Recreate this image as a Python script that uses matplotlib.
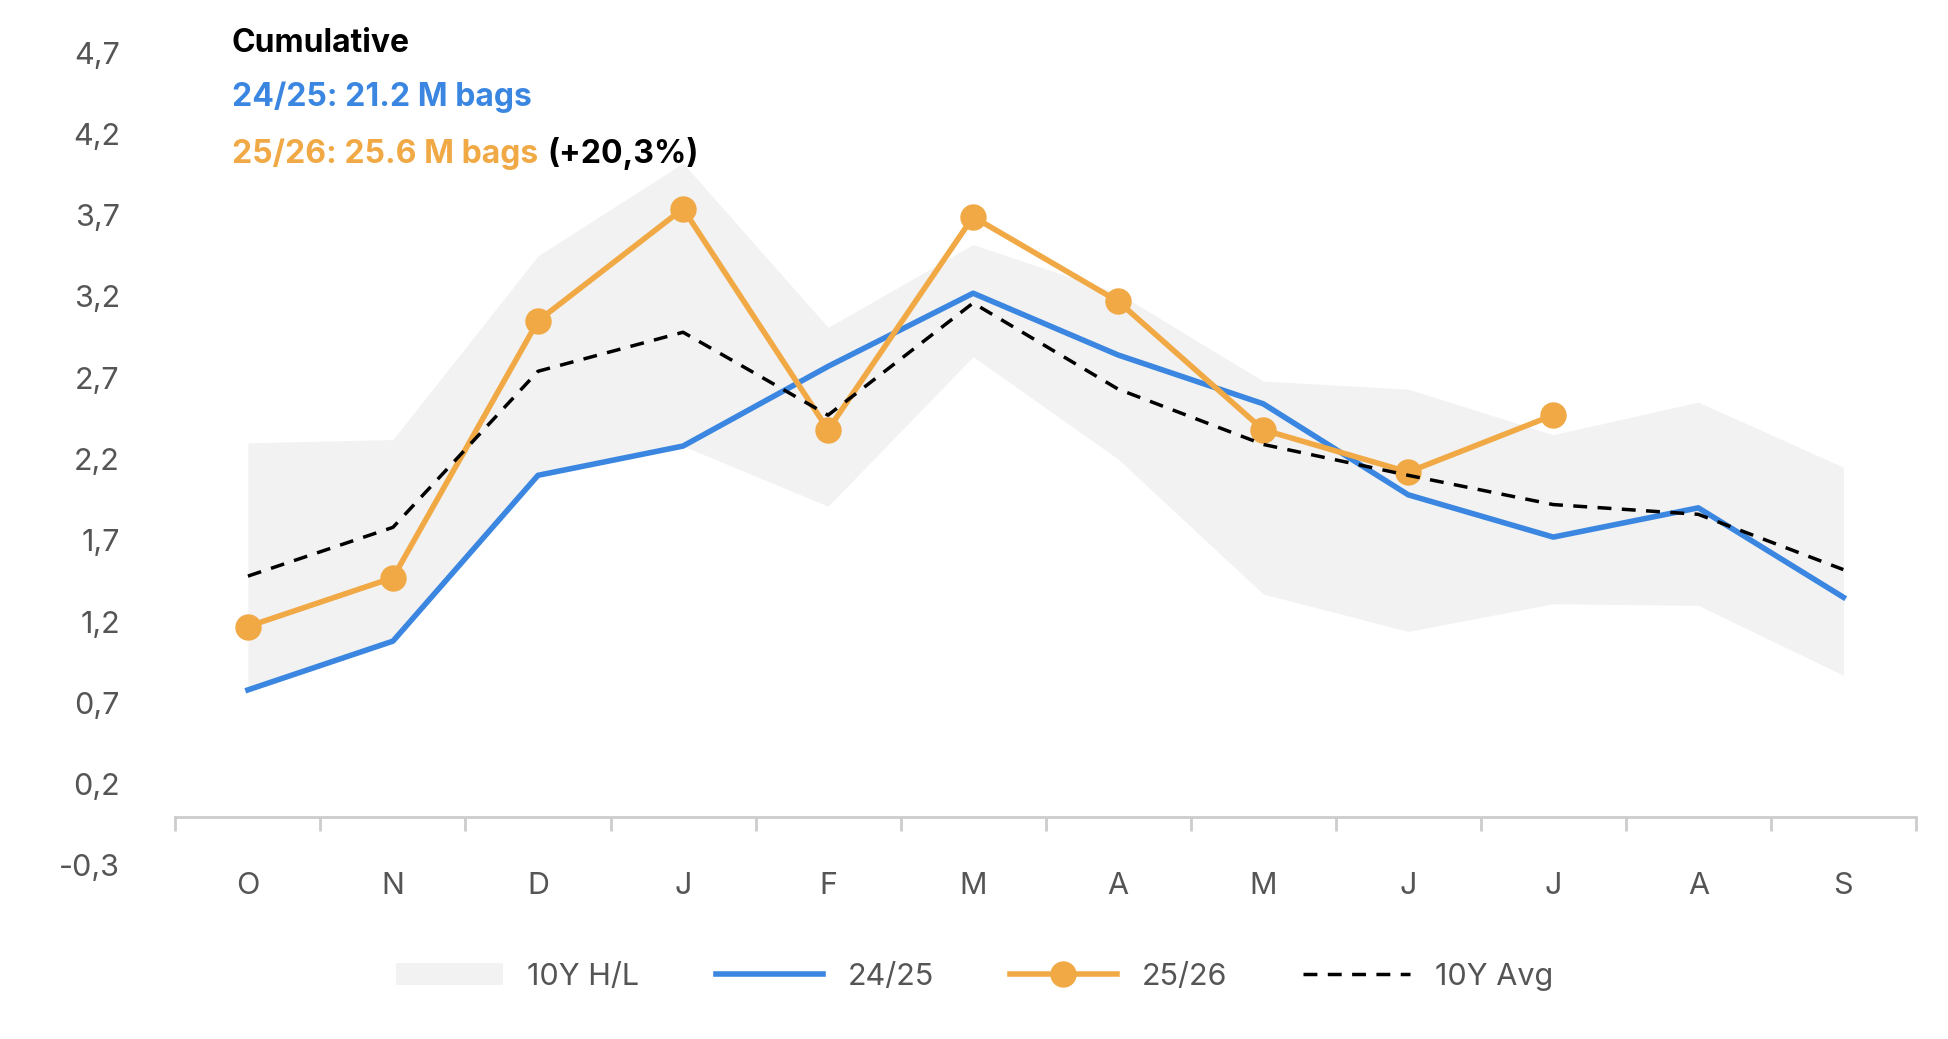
import numpy as np
import matplotlib.pyplot as plt

plt.rcParams['font.family'] = ['Inter', 'DejaVu Sans']

months = ["O", "N", "D", "J", "F", "M", "A", "M", "J", "J", "A", "S"]
s2425 = [0.78, 1.08, 2.10, 2.28, 2.77, 3.22, 2.84, 2.54, 1.98, 1.72, 1.90, 1.35]
s2526 = [1.17, 1.47, 3.05, 3.74, 2.38, 3.69, 3.17, 2.38, 2.12, 2.47]
avg10 = [1.48, 1.78, 2.74, 2.98, 2.47, 3.16, 2.63, 2.29, 2.10, 1.92, 1.86, 1.52]
high10 = [2.30, 2.32, 3.45, 4.02, 3.01, 3.52, 3.22, 2.68, 2.63, 2.35, 2.55, 2.15]
low10 = [0.78, 1.08, 2.10, 2.28, 1.91, 2.83, 2.20, 1.37, 1.14, 1.31, 1.30, 0.87]
yticks = [-0.3, 0.2, 0.7, 1.2, 1.7, 2.2, 2.7, 3.2, 3.7, 4.2, 4.7]

blue = "#3a86e0"
orange = "#f0a945"
x = np.arange(len(months))

fig = plt.figure(figsize=(19.49, 10.39), dpi=100)
ax = fig.add_axes([0.09, 0.167, 0.893, 0.798])

ax.fill_between(x, low10, high10, color="#f2f2f2", lw=0, label="10Y H/L")
ax.plot(x, s2425, color=blue, lw=4, label="24/25")
ax.plot(x[:len(s2526)], s2526, color=orange, lw=4, marker="o", ms=18, label="25/26")
ax.plot(x, avg10, color="black", lw=2.5, ls=(0, (4, 3)), label="10Y Avg")

ax.set_xlim(-0.5, 11.5)
ax.set_ylim(-0.3, 4.8)
ax.set_yticks(yticks)
ax.set_yticklabels([f"{v:.1f}".replace(".", ",") for v in yticks], color="#555555", fontsize=22)
ax.tick_params(axis="y", length=0, pad=40)
for s in ["top", "right", "left"]:
    ax.spines[s].set_visible(False)
ax.spines["bottom"].set_position(("data", 0))
ax.spines["bottom"].set_color("#cccccc")
ax.spines["bottom"].set_linewidth(2)
ax.set_xticks(np.arange(-0.5, 12, 1), minor=True)
ax.set_xticks(x)
ax.set_xticklabels(months, color="#555555", fontsize=22)
ax.tick_params(axis="x", which="major", length=0, pad=40)
ax.tick_params(axis="x", which="minor", length=10, width=2, color="#cccccc")

fig.text(0.119, 0.958, "Cumulative", fontsize=23, fontweight="bold", va="center")
fig.text(0.119, 0.906, "24/25: 21.2 M bags", fontsize=23, fontweight="bold", color=blue, va="center")
t = fig.text(0.119, 0.852, "25/26: 25.6 M bags", fontsize=23, fontweight="bold", color=orange, va="center")
fig.canvas.draw()
bb = t.get_window_extent().transformed(fig.transFigure.inverted())
fig.text(bb.x1 + 0.005, 0.852, "(+20,3%)", fontsize=23, fontweight="bold", va="center")

fig.legend(loc="center", bbox_to_anchor=(0.5, 0.06), ncol=4, frameon=False,
           fontsize=22, labelcolor="#555555", handlelength=3.5, columnspacing=2.5)

fig.savefig("out.png")
